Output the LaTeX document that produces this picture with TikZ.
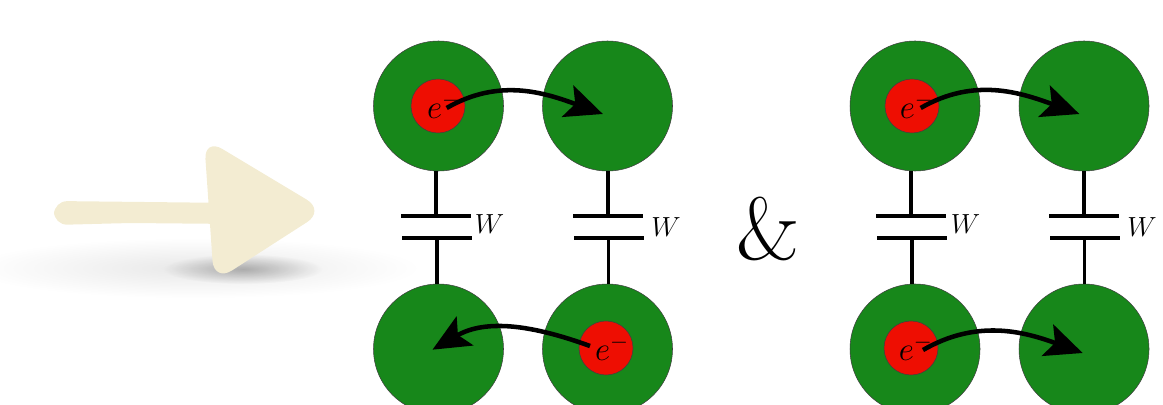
\documentclass[tikz,border=0pt]{standalone}
\usepackage{tikz}
\usepackage{xcolor}
\usetikzlibrary{arrows.meta,positioning,fadings}
\definecolor{SiteGreen}{HTML}{17871A}
\definecolor{ElecRed}{HTML}{EE0E02}
\definecolor{Sand}{HTML}{F3ECD2}
\tikzfading[name=softglow,inner color=transparent!0,outer color=transparent!100]
\tikzset{
  site/.style={circle,draw=black!75,line width=0.4pt,fill=SiteGreen,minimum size=97.5pt,inner sep=0pt,outer sep=0pt},
  elec/.style={circle,draw=black!75,line width=0.4pt,fill=ElecRed,minimum size=40.5pt,inner sep=0pt,font=\fontsize{24}{28}\selectfont},
  plate/.style={fill=black,minimum width=52.5pt,minimum height=2.6pt,inner sep=0pt,outer sep=0pt},
  wire/.style={draw=black,line width=2.4pt},
  hop/.style={-{Stealth[length=28pt,width=25pt,inset=6pt]},draw=black,line width=3.4pt},
  coupling/.style={font=\fontsize{21.5}{25}\selectfont,inner sep=0pt}
}
\begin{document}
\begin{tikzpicture}[x=0.75pt,y=0.75pt,node distance=29.25pt]
  \useasboundingbox (0,0) rectangle (1163,404);
  \clip (0,0) rectangle (1163,404);
  % shadow and big arrow
  \fill[black,opacity=0.09,path fading=softglow] (195,136) ellipse (225 and 30);
  \fill[black,opacity=0.28,path fading=softglow] (243,135) ellipse (80 and 15);
  \fill[Sand,rounded corners=10pt] (54,203) -- (235,201) -- (235,180) -- (130,181) -- (54,179) -- cycle;
  \fill[Sand,rounded corners=16pt] (204,266) -- (325,193.4) -- (214,122) -- cycle;
  % left pair
  \node[site] (a1) at (438.5,298) {};
  \node[site,right=of a1] (b1) {};
  \node[site,below=84.75pt of a1] (c1) {};
  \node[site,right=of c1] (d1) {};
  \node[elec] (ea) at (438,298) {\hspace*{9pt}$e^-$};
  \node[elec] (ed) at (606,56) {\hspace*{9pt}$e^-$};
  \node[plate] (pa1) at (436,188) {};
  \node[plate] (pa2) at (437,166) {};
  \node[plate] (pb1) at (608,188) {};
  \node[plate] (pb2) at (608.5,166) {};
  \draw[wire] (pa1.north) -- (pa1.north |- a1.south);
  \draw[wire] (pa2.south) -- (pa2.south |- c1.north);
  \draw[wire] (pb1.north) -- (pb1.north |- b1.south);
  \draw[wire] (pb2.south) -- (pb2.south |- d1.north);
  \node[coupling] (wa) at (489.5,179.5) {$W$};
  \node[coupling] (wb) at (666,177) {$W$};
  \draw[hop] ([shift={(6.5pt,-1.5pt)}]ea.center) to[out=30,in=160] ([shift={(-3.5pt,-6pt)}]b1.center);
  \draw[hop] ([shift={(-12pt,1.5pt)}]ed.center) to[out=160,in=30] ([shift={(-4.5pt,-0.5pt)}]c1.center);
  % ampersand
  \node[inner sep=0pt,font=\fontsize{66}{72}\selectfont] (amp) at (768,175) {\&};
  % right pair
  \node[site] (a2) at (915,298) {};
  \node[site,right=of a2] (b2) {};
  \node[site,below=84.75pt of a2] (c2) {};
  \node[site,right=of c2] (d2) {};
  \node[elec] (eb) at (912,298) {\hspace*{7pt}$e^-$};
  \node[elec] (ec) at (911,56) {\hspace*{7pt}$e^-$};
  \node[plate] (pc1) at (911,188) {};
  \node[plate] (pc2) at (912,166) {};
  \node[plate] (pd1) at (1084,188) {};
  \node[plate] (pd2) at (1084.5,166) {};
  \draw[wire] (pc1.north) -- (pc1.north |- a2.south);
  \draw[wire] (pc2.south) -- (pc2.south |- c2.north);
  \draw[wire] (pd1.north) -- (pd1.north |- b2.south);
  \draw[wire] (pd2.south) -- (pd2.south |- d2.north);
  \node[coupling] (wc) at (965.5,179.5) {$W$};
  \node[coupling] (wd) at (1142,177) {$W$};
  \draw[hop] ([shift={(6.5pt,-1.5pt)}]eb.center) to[out=30,in=160] ([shift={(-3.5pt,-6pt)}]b2.center);
  \draw[hop] ([shift={(9pt,-1.5pt)}]ec.center) to[out=30,in=160] ([shift={(-1pt,-3pt)}]d2.center);
\end{tikzpicture}
\end{document}
